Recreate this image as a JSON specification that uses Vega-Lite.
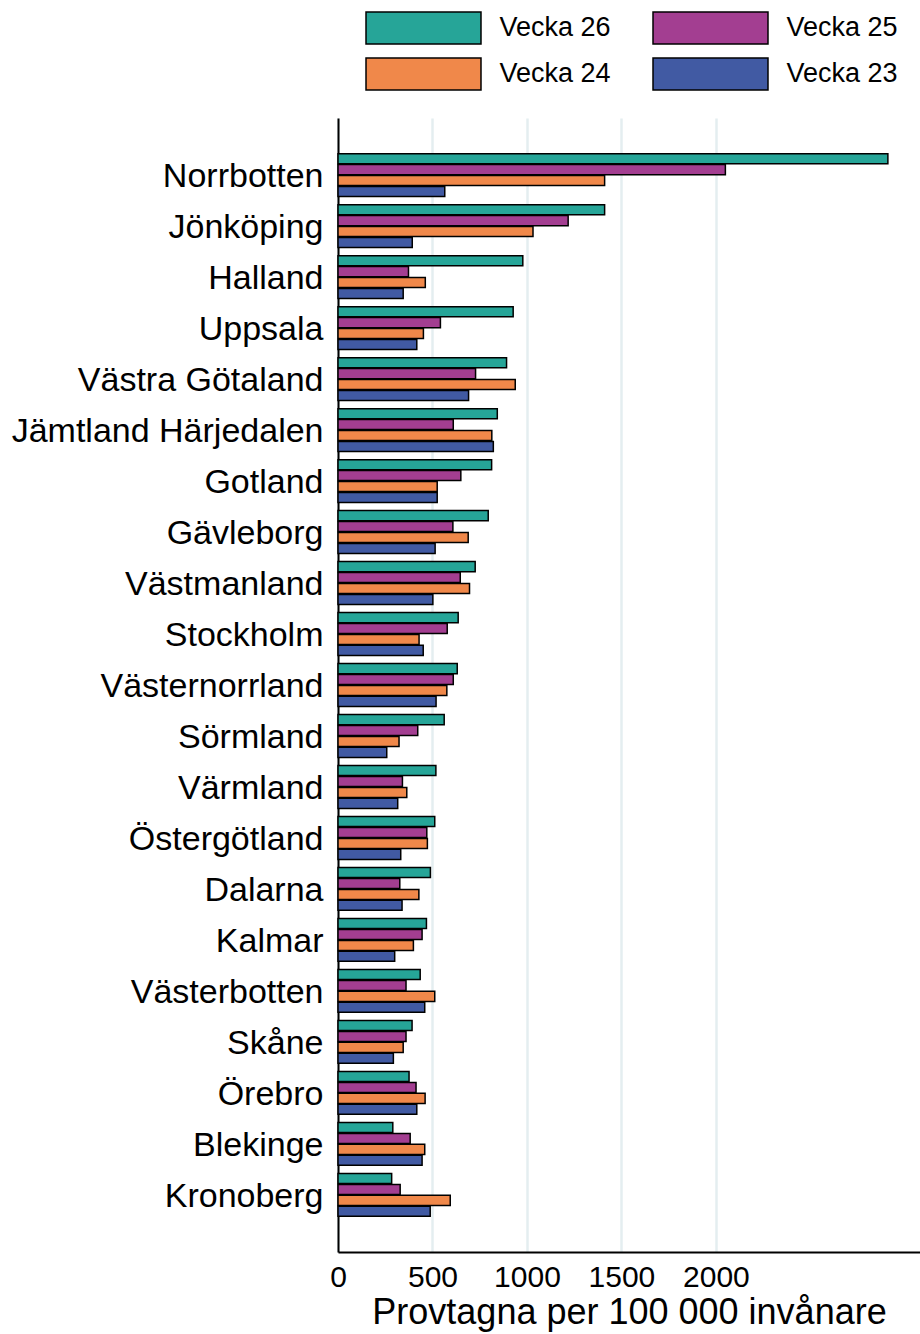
{
  "$schema": "https://vega.github.io/schema/vega-lite/v6.json",
  "width": 582,
  "height": 1134,
  "autosize": {"type": "none"},
  "padding": {"left": 338, "top": 118, "right": 0, "bottom": 82},
  "background": "white",
  "config": {
    "font": "Liberation Sans",
    "view": {"stroke": null}
  },
  "data": {
    "values": [
      {"region": "Norrbotten", "week": "Vecka 26", "value": 2910},
      {"region": "Norrbotten", "week": "Vecka 25", "value": 2050},
      {"region": "Norrbotten", "week": "Vecka 24", "value": 1411},
      {"region": "Norrbotten", "week": "Vecka 23", "value": 565},
      {"region": "Jönköping", "week": "Vecka 26", "value": 1411},
      {"region": "Jönköping", "week": "Vecka 25", "value": 1218},
      {"region": "Jönköping", "week": "Vecka 24", "value": 1032},
      {"region": "Jönköping", "week": "Vecka 23", "value": 393},
      {"region": "Halland", "week": "Vecka 26", "value": 978},
      {"region": "Halland", "week": "Vecka 25", "value": 373},
      {"region": "Halland", "week": "Vecka 24", "value": 462},
      {"region": "Halland", "week": "Vecka 23", "value": 345},
      {"region": "Uppsala", "week": "Vecka 26", "value": 927},
      {"region": "Uppsala", "week": "Vecka 25", "value": 542},
      {"region": "Uppsala", "week": "Vecka 24", "value": 452},
      {"region": "Uppsala", "week": "Vecka 23", "value": 417},
      {"region": "Västra Götaland", "week": "Vecka 26", "value": 892},
      {"region": "Västra Götaland", "week": "Vecka 25", "value": 728},
      {"region": "Västra Götaland", "week": "Vecka 24", "value": 938},
      {"region": "Västra Götaland", "week": "Vecka 23", "value": 691},
      {"region": "Jämtland Härjedalen", "week": "Vecka 26", "value": 843},
      {"region": "Jämtland Härjedalen", "week": "Vecka 25", "value": 610},
      {"region": "Jämtland Härjedalen", "week": "Vecka 24", "value": 814},
      {"region": "Jämtland Härjedalen", "week": "Vecka 23", "value": 822},
      {"region": "Gotland", "week": "Vecka 26", "value": 813},
      {"region": "Gotland", "week": "Vecka 25", "value": 650},
      {"region": "Gotland", "week": "Vecka 24", "value": 525},
      {"region": "Gotland", "week": "Vecka 23", "value": 525},
      {"region": "Gävleborg", "week": "Vecka 26", "value": 795},
      {"region": "Gävleborg", "week": "Vecka 25", "value": 608},
      {"region": "Gävleborg", "week": "Vecka 24", "value": 689},
      {"region": "Gävleborg", "week": "Vecka 23", "value": 514},
      {"region": "Västmanland", "week": "Vecka 26", "value": 726},
      {"region": "Västmanland", "week": "Vecka 25", "value": 647},
      {"region": "Västmanland", "week": "Vecka 24", "value": 696},
      {"region": "Västmanland", "week": "Vecka 23", "value": 502},
      {"region": "Stockholm", "week": "Vecka 26", "value": 636},
      {"region": "Stockholm", "week": "Vecka 25", "value": 578},
      {"region": "Stockholm", "week": "Vecka 24", "value": 429},
      {"region": "Stockholm", "week": "Vecka 23", "value": 451},
      {"region": "Västernorrland", "week": "Vecka 26", "value": 631},
      {"region": "Västernorrland", "week": "Vecka 25", "value": 610},
      {"region": "Västernorrland", "week": "Vecka 24", "value": 576},
      {"region": "Västernorrland", "week": "Vecka 23", "value": 519},
      {"region": "Sörmland", "week": "Vecka 26", "value": 562},
      {"region": "Sörmland", "week": "Vecka 25", "value": 422},
      {"region": "Sörmland", "week": "Vecka 24", "value": 323},
      {"region": "Sörmland", "week": "Vecka 23", "value": 258},
      {"region": "Värmland", "week": "Vecka 26", "value": 518},
      {"region": "Värmland", "week": "Vecka 25", "value": 341},
      {"region": "Värmland", "week": "Vecka 24", "value": 364},
      {"region": "Värmland", "week": "Vecka 23", "value": 316},
      {"region": "Östergötland", "week": "Vecka 26", "value": 512},
      {"region": "Östergötland", "week": "Vecka 25", "value": 470},
      {"region": "Östergötland", "week": "Vecka 24", "value": 473},
      {"region": "Östergötland", "week": "Vecka 23", "value": 332},
      {"region": "Dalarna", "week": "Vecka 26", "value": 489},
      {"region": "Dalarna", "week": "Vecka 25", "value": 327},
      {"region": "Dalarna", "week": "Vecka 24", "value": 428},
      {"region": "Dalarna", "week": "Vecka 23", "value": 339},
      {"region": "Kalmar", "week": "Vecka 26", "value": 468},
      {"region": "Kalmar", "week": "Vecka 25", "value": 445},
      {"region": "Kalmar", "week": "Vecka 24", "value": 399},
      {"region": "Kalmar", "week": "Vecka 23", "value": 300},
      {"region": "Västerbotten", "week": "Vecka 26", "value": 435},
      {"region": "Västerbotten", "week": "Vecka 25", "value": 360},
      {"region": "Västerbotten", "week": "Vecka 24", "value": 512},
      {"region": "Västerbotten", "week": "Vecka 23", "value": 459},
      {"region": "Skåne", "week": "Vecka 26", "value": 392},
      {"region": "Skåne", "week": "Vecka 25", "value": 360},
      {"region": "Skåne", "week": "Vecka 24", "value": 345},
      {"region": "Skåne", "week": "Vecka 23", "value": 293},
      {"region": "Örebro", "week": "Vecka 26", "value": 376},
      {"region": "Örebro", "week": "Vecka 25", "value": 413},
      {"region": "Örebro", "week": "Vecka 24", "value": 461},
      {"region": "Örebro", "week": "Vecka 23", "value": 417},
      {"region": "Blekinge", "week": "Vecka 26", "value": 290},
      {"region": "Blekinge", "week": "Vecka 25", "value": 382},
      {"region": "Blekinge", "week": "Vecka 24", "value": 459},
      {"region": "Blekinge", "week": "Vecka 23", "value": 445},
      {"region": "Kronoberg", "week": "Vecka 26", "value": 284},
      {"region": "Kronoberg", "week": "Vecka 25", "value": 329},
      {"region": "Kronoberg", "week": "Vecka 24", "value": 594},
      {"region": "Kronoberg", "week": "Vecka 23", "value": 488}
    ]
  },
  "mark": {"type": "bar", "stroke": "black", "strokeWidth": 1.5},
  "encoding": {
    "y": {
      "field": "region",
      "type": "nominal",
      "sort": null,
      "scale": {"paddingInner": 0.16, "paddingOuter": 0.7},
      "axis": {
        "title": null,
        "ticks": false,
        "labelFontSize": 34,
        "labelColor": "black",
        "labelPadding": 15,
        "labelOffset": 2,
        "labelLimit": 400,
        "domainColor": "black",
        "domainWidth": 2,
        "grid": false
      }
    },
    "x": {
      "field": "value",
      "type": "quantitative",
      "scale": {"domain": [0, 3080], "nice": false},
      "axis": {
        "title": "Provtagna per 100 000 invånare",
        "titleFontSize": 36,
        "titleFontWeight": "normal",
        "titleColor": "black",
        "titlePadding": 3,
        "values": [0, 500, 1000, 1500, 2000],
        "format": "d",
        "ticks": false,
        "labelFontSize": 30,
        "labelColor": "black",
        "labelPadding": 10,
        "labelFlush": false,
        "domainColor": "black",
        "domainWidth": 2,
        "grid": true,
        "gridColor": "#e4eef0",
        "gridWidth": 2.5
      }
    },
    "yOffset": {
      "field": "week",
      "type": "nominal",
      "sort": ["Vecka 26", "Vecka 25", "Vecka 24", "Vecka 23"],
      "scale": {"paddingInner": 0.08}
    },
    "color": {
      "field": "week",
      "type": "nominal",
      "scale": {
        "domain": ["Vecka 26", "Vecka 25", "Vecka 24", "Vecka 23"],
        "range": ["#26A598", "#A33E91", "#F0884A", "#415AA3"]
      },
      "legend": {
        "title": null,
        "orient": "none",
        "direction": "horizontal",
        "legendX": 27,
        "legendY": -108,
        "columns": 2,
        "columnPadding": 39,
        "rowPadding": 8,
        "padding": 0,
        "symbolType": "M-3.382,-0.94H3.382V0.94H-3.382Z",
        "symbolSize": 1156,
        "symbolOffset": 40.5,
        "symbolStrokeColor": "black",
        "symbolStrokeWidth": 1.5,
        "symbolOpacity": 1,
        "labelOffset": 58,
        "labelFontSize": 27,
        "labelColor": "black",
        "labelLimit": 300
      }
    }
  }
}
